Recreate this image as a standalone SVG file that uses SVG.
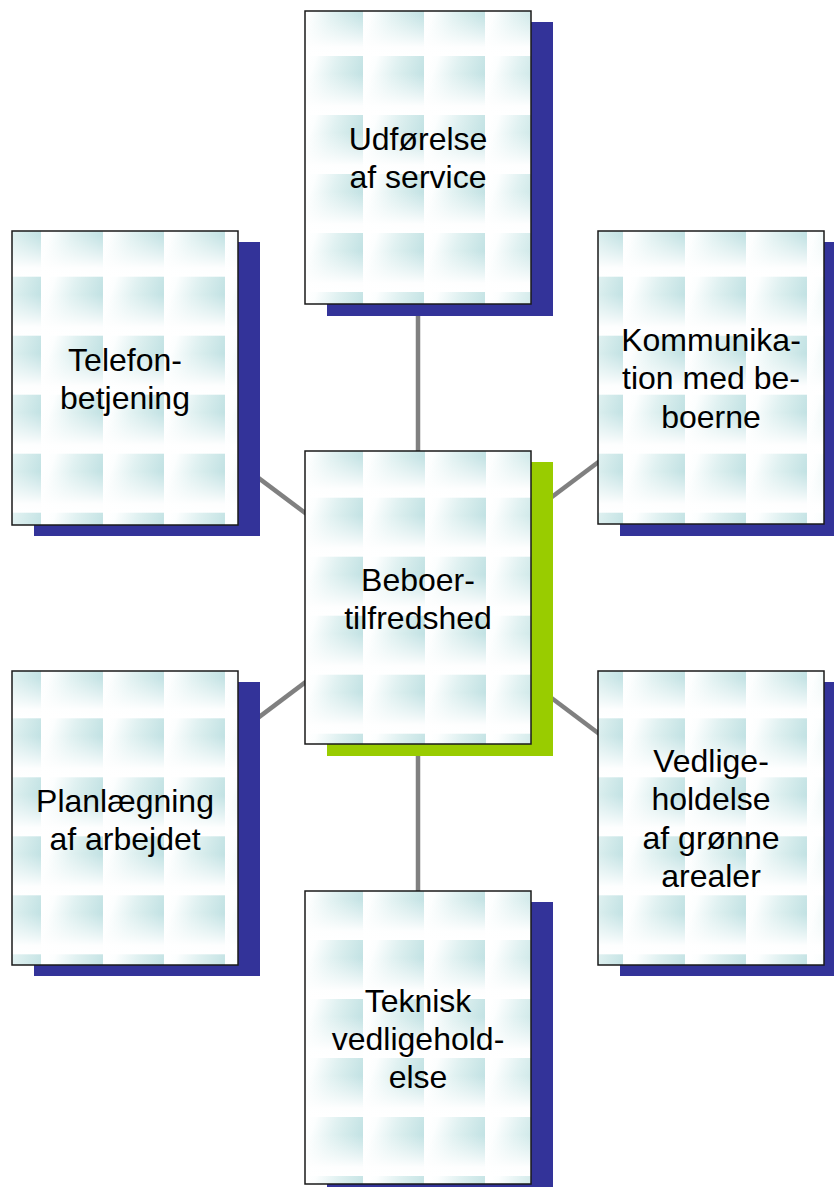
<svg xmlns="http://www.w3.org/2000/svg" width="834" height="1187" viewBox="0 0 834 1187">
<style>
.conn{stroke:#808080;stroke-width:4.5;fill:none}
.sh{fill:#333399}
.shg{fill:#99cc00}
.box{stroke:#1a1a1a;stroke-width:1.5}
.lbl{font-family:"Liberation Sans",Arial,sans-serif;font-size:32px;fill:#000;text-anchor:middle}
</style>
<defs>
<linearGradient id="gH" x1="0" y1="0.35" x2="1" y2="0.65">
<stop offset="0" stop-color="#ffffff"/>
<stop offset="0.12" stop-color="#fcfefe"/>
<stop offset="0.45" stop-color="#e0f1f1"/>
<stop offset="0.6" stop-color="#d6ecec"/>
<stop offset="1" stop-color="#bcdfe1"/>
</linearGradient>
<linearGradient id="gV" x1="0" y1="0" x2="0" y2="1">
<stop offset="0.3" stop-color="#ffffff" stop-opacity="0"/>
<stop offset="0.85" stop-color="#ffffff" stop-opacity="0.97"/>
<stop offset="1" stop-color="#ffffff" stop-opacity="1"/>
</linearGradient>
<pattern id="tile" patternUnits="userSpaceOnUse" width="61" height="59">
<rect width="61" height="59" fill="url(#gH)"/>
<rect width="61" height="59" fill="url(#gV)"/>
</pattern>
<pattern id="pU" href="#tile" x="363" y="56"/>
<pattern id="pC" href="#tile" x="363" y="497.7"/>
<pattern id="pT" href="#tile" x="41" y="276.7"/>
<pattern id="pK" href="#tile" x="623" y="276.7"/>
<pattern id="pP" href="#tile" x="41" y="718.3"/>
<pattern id="pV" href="#tile" x="623" y="718.3"/>
<pattern id="pE" href="#tile" x="363" y="940"/>
</defs>
<rect width="834" height="1187" fill="#ffffff"/>
<g id="connectors">
<line class="conn" x1="418" y1="597.5" x2="418" y2="157.5"/>
<line class="conn" x1="418" y1="597.5" x2="418" y2="1037.5"/>
<line class="conn" x1="418" y1="597.5" x2="125" y2="378"/>
<line class="conn" x1="418" y1="597.5" x2="711" y2="377.5"/>
<line class="conn" x1="418" y1="597.5" x2="125" y2="818"/>
<line class="conn" x1="418" y1="597.5" x2="711" y2="818"/>
</g>
<g id="udforelse">
<rect class="sh" x="327" y="22" width="226" height="294"/>
<rect class="box" x="305" y="11" width="226" height="293" fill="url(#pU)"/>
<text class="lbl" x="418" y="150">Udførelse</text>
<text class="lbl" x="418" y="188.4">af service</text>
</g>
<g id="telefon">
<rect class="sh" x="34" y="242" width="226" height="294"/>
<rect class="box" x="12" y="231" width="226" height="294" fill="url(#pT)"/>
<text class="lbl" x="125" y="371">Telefon-</text>
<text class="lbl" x="125" y="409.4">betjening</text>
</g>
<g id="kommunikation">
<rect class="sh" x="620" y="242" width="226" height="294"/>
<rect class="box" x="598" y="231" width="226" height="293" fill="url(#pK)"/>
<text class="lbl" x="711" y="351">Kommunika-</text>
<text class="lbl" x="711" y="389.4">tion med be-</text>
<text class="lbl" x="711" y="427.8">boerne</text>
</g>
<g id="beboertilfredshed">
<rect class="shg" x="327" y="462" width="226" height="294"/>
<rect class="box" x="305" y="451" width="226" height="293" fill="url(#pC)"/>
<text class="lbl" x="418" y="590.5">Beboer-</text>
<text class="lbl" x="418" y="628.9">tilfredshed</text>
</g>
<g id="planlaegning">
<rect class="sh" x="34" y="682" width="226" height="294"/>
<rect class="box" x="12" y="671" width="226" height="294" fill="url(#pP)"/>
<text class="lbl" x="125" y="811.5">Planlægning</text>
<text class="lbl" x="125" y="849.9">af arbejdet</text>
</g>
<g id="vedligeholdelse">
<rect class="sh" x="620" y="682" width="226" height="294"/>
<rect class="box" x="598" y="671" width="226" height="294" fill="url(#pV)"/>
<text class="lbl" x="711" y="772">Vedlige-</text>
<text class="lbl" x="711" y="810.4">holdelse</text>
<text class="lbl" x="711" y="848.8">af grønne</text>
<text class="lbl" x="711" y="887.2">arealer</text>
</g>
<g id="teknisk">
<rect class="sh" x="327" y="902" width="226" height="294"/>
<rect class="box" x="305" y="891" width="226" height="293" fill="url(#pE)"/>
<text class="lbl" x="418" y="1011.5">Teknisk</text>
<text class="lbl" x="418" y="1049.9">vedligehold-</text>
<text class="lbl" x="418" y="1088.3">else</text>
</g>
</svg>
